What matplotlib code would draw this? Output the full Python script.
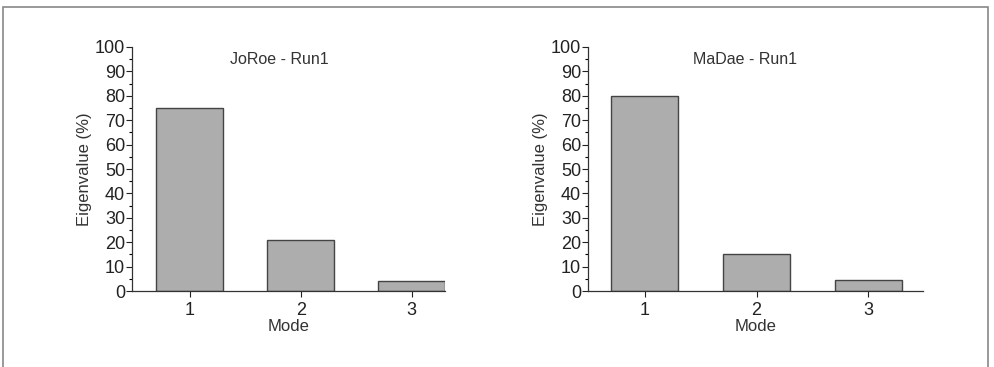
import matplotlib.pyplot as plt
from matplotlib.patches import Rectangle
from matplotlib.ticker import MultipleLocator

plt.rcParams['font.family'] = ['Liberation Sans', 'DejaVu Sans']

modes = [1, 2, 3]
joroe = [75, 21, 4]
madae = [80, 15, 4.5]
titles = ["JoRoe - Run1", "MaDae - Run1"]

fig = plt.figure(figsize=(9.94, 3.67), dpi=100)
fig.patches.append(Rectangle((0.003, -0.01), 0.991, 0.99, transform=fig.transFigure,
                             fill=False, edgecolor='#888888', linewidth=1.2))

panels = [
    (fig.add_axes([0.1328, 0.207, 0.315, 0.665]), joroe, titles[0], (0.48, 3.3)),
    (fig.add_axes([0.5915, 0.207, 0.337, 0.665]), madae, titles[1], (0.49, 3.49)),
]

for ax, vals, title, xlim in panels:
    ax.bar(modes, vals, width=0.6, color='#adadad', edgecolor='#444444', linewidth=1.0)
    ax.set_xlim(*xlim)
    ax.set_ylim(0, 100)
    ax.yaxis.set_major_locator(MultipleLocator(10))
    ax.yaxis.set_minor_locator(MultipleLocator(5))
    ax.set_xticks(modes)
    for s in ('top', 'right'):
        ax.spines[s].set_visible(False)
    for s in ('left', 'bottom'):
        ax.spines[s].set_color('#333333')
        ax.spines[s].set_linewidth(0.9)
    ax.tick_params(axis='both', labelsize=13, colors='#222222', length=4, width=0.8, pad=1)
    ax.tick_params(axis='x', pad=4)
    ax.tick_params(axis='y', which='minor', length=2.5, width=0.8)
    ax.set_xlabel("Mode", fontsize=12, color='#333333', labelpad=0)
    ax.set_ylabel("Eigenvalue (%)", fontsize=12, color='#333333', labelpad=2)
    ax.text(0.47, 0.98, title, transform=ax.transAxes, ha='center', va='top',
            fontsize=11.5, color='#333333')

fig.savefig("out.png", dpi=100)
